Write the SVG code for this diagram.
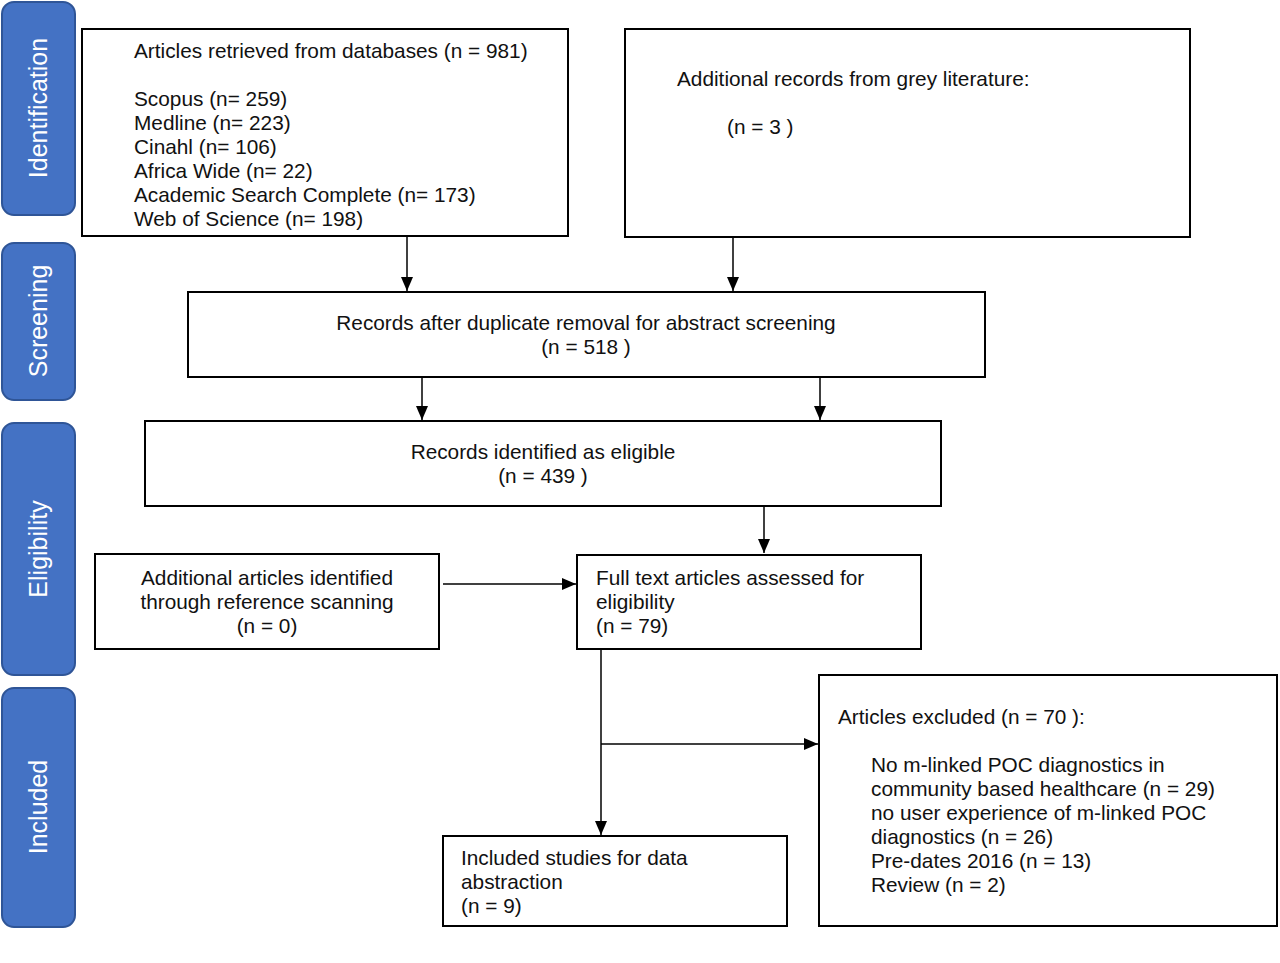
<svg xmlns="http://www.w3.org/2000/svg" width="1280" height="963" viewBox="0 0 1280 963">
<defs>
<style>
.side{fill:#4472C4;stroke:#2F5597;stroke-width:2}
.sl{font-family:"Liberation Sans",Arial,sans-serif;font-size:25px;fill:#ffffff;text-anchor:middle}
.box{fill:#ffffff;stroke:#000000;stroke-width:2}
.t{font-family:"Liberation Sans",Arial,sans-serif;font-size:20.8px;fill:#111111}
.c{text-anchor:middle}
.ln{stroke:#000000;stroke-width:1.5;fill:none}
</style>
<marker id="ah" viewBox="0 0 14 12" refX="14" refY="6" markerWidth="14" markerHeight="12" markerUnits="userSpaceOnUse" orient="auto">
<path d="M0,0 L14,6 L0,12 Z" fill="#000"/>
</marker>
</defs>
<rect width="1280" height="963" fill="#ffffff"/>
<g id="phase-identification"><rect class="side" x="2" y="2" width="73" height="213" rx="12"/><text class="sl" transform="translate(47,108) rotate(-90)">Identification</text></g>
<g id="phase-screening"><rect class="side" x="2" y="243" width="73" height="157" rx="12"/><text class="sl" transform="translate(47,321) rotate(-90)">Screening</text></g>
<g id="phase-eligibility"><rect class="side" x="2" y="423" width="73" height="252" rx="12"/><text class="sl" transform="translate(47,549) rotate(-90)">Eligibility</text></g>
<g id="phase-included"><rect class="side" x="2" y="688" width="73" height="239" rx="12"/><text class="sl" transform="translate(47,807) rotate(-90)">Included</text></g>

<g id="connectors">
<line class="ln" x1="407" y1="237" x2="407" y2="291" marker-end="url(#ah)"/>
<line class="ln" x1="733" y1="237" x2="733" y2="291" marker-end="url(#ah)"/>
<line class="ln" x1="422" y1="367" x2="422" y2="420" marker-end="url(#ah)"/>
<line class="ln" x1="820" y1="373" x2="820" y2="420" marker-end="url(#ah)"/>
<line class="ln" x1="764" y1="507" x2="764" y2="553" marker-end="url(#ah)"/>
<line class="ln" x1="443" y1="584" x2="576" y2="584" marker-end="url(#ah)"/>
<line class="ln" x1="601" y1="649" x2="601" y2="835" marker-end="url(#ah)"/>
<line class="ln" x1="601" y1="744" x2="818" y2="744" marker-end="url(#ah)"/>
</g>

<g id="n1"><rect class="box" x="82" y="29" width="486" height="207"/>
<text class="t" x="134" y="58">Articles retrieved from databases (n = 981)</text>
<text class="t" x="134" y="106">Scopus (n= 259)</text>
<text class="t" x="134" y="130">Medline (n= 223)</text>
<text class="t" x="134" y="154">Cinahl (n= 106)</text>
<text class="t" x="134" y="178">Africa Wide (n= 22)</text>
<text class="t" x="134" y="202">Academic Search Complete (n= 173)</text>
<text class="t" x="134" y="226">Web of Science (n= 198)</text>
</g>
<g id="n2"><rect class="box" x="625" y="29" width="565" height="208"/>
<text class="t" x="677" y="86">Additional records from grey literature:</text>
<text class="t" x="727" y="134">(n = 3 )</text>
</g>
<g id="n3"><rect class="box" x="188" y="292" width="797" height="85"/>
<text class="t c" x="586" y="330">Records after duplicate removal for abstract screening</text>
<text class="t c" x="586" y="354">(n = 518 )</text>
</g>
<g id="n4"><rect class="box" x="145" y="421" width="796" height="85"/>
<text class="t c" x="543" y="459">Records identified as eligible</text>
<text class="t c" x="543" y="483">(n = 439 )</text>
</g>
<g id="n5"><rect class="box" x="95" y="554" width="344" height="95"/>
<text class="t c" x="267" y="585">Additional articles identified</text>
<text class="t c" x="267" y="609">through reference scanning</text>
<text class="t c" x="267" y="633">(n = 0)</text>
</g>
<g id="n6"><rect class="box" x="577" y="555" width="344" height="94"/>
<text class="t" x="596" y="585">Full text articles assessed for</text>
<text class="t" x="596" y="609">eligibility</text>
<text class="t" x="596" y="633">(n = 79)</text>
</g>
<g id="n7"><rect class="box" x="443" y="836" width="344" height="90"/>
<text class="t" x="461" y="865">Included studies for data</text>
<text class="t" x="461" y="889">abstraction</text>
<text class="t" x="461" y="913">(n = 9)</text>
</g>
<g id="n8"><rect class="box" x="819" y="675" width="458" height="251"/>
<text class="t" x="838" y="724">Articles excluded (n = 70 ):</text>
<text class="t" x="871" y="772">No m-linked POC diagnostics in</text>
<text class="t" x="871" y="796">community based healthcare (n = 29)</text>
<text class="t" x="871" y="820">no user experience of m-linked POC</text>
<text class="t" x="871" y="844">diagnostics (n = 26)</text>
<text class="t" x="871" y="868">Pre-dates 2016 (n = 13)</text>
<text class="t" x="871" y="892">Review (n = 2)</text>
</g>
</svg>
